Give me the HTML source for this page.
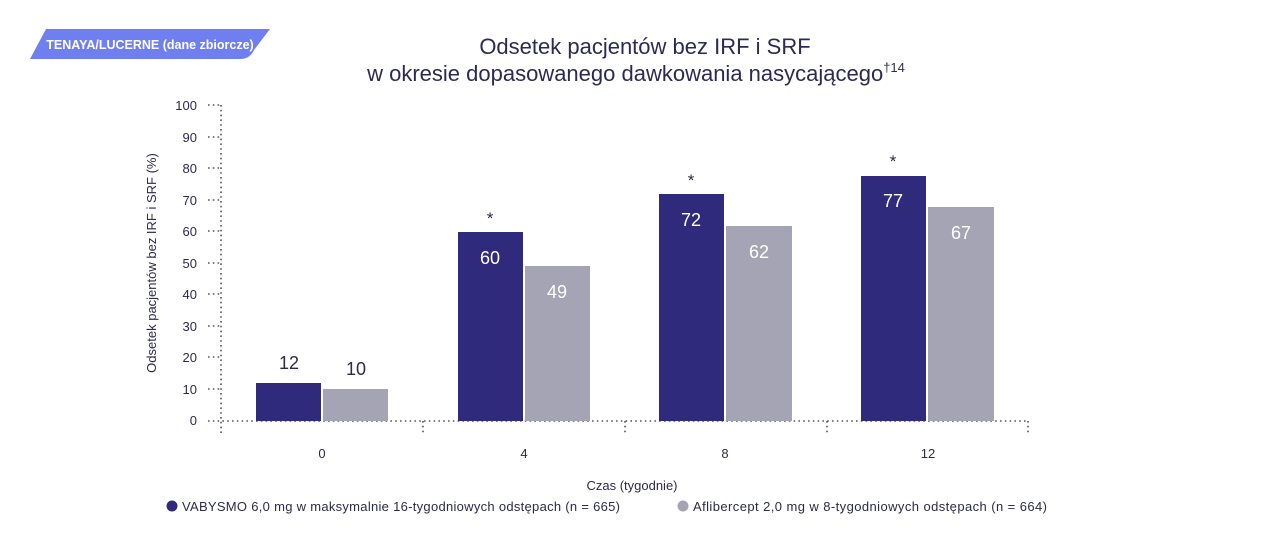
<!DOCTYPE html>
<html><head><meta charset="utf-8"><style>
html,body{margin:0;padding:0;background:#fff;width:1280px;height:552px;overflow:hidden}
svg{display:block;font-family:"Liberation Sans",sans-serif}
</style></head><body>
<svg width="1280" height="552" viewBox="0 0 1280 552">
<path d="M46 29 H270 L254 50 Q250 59 240 59 H30 Z" fill="#6f7ff0"/>
<text x="150" y="49" font-size="12.5" font-weight="bold" fill="#fff" text-anchor="middle">TENAYA/LUCERNE (dane zbiorcze)</text>
<g fill="#2b2a55" font-size="22" text-anchor="middle">
<text x="645" y="54">Odsetek pacjentów bez IRF i SRF</text>
<text x="636" y="81">w okresie dopasowanego dawkowania nasycającego<tspan font-size="13" dy="-9">†14</tspan></text>
</g>
<text transform="translate(156,263) rotate(-90)" font-size="13" fill="#2b2a4c" text-anchor="middle">Odsetek pacjentów bez IRF i SRF (%)</text>
<g stroke="#555" stroke-width="1.6" stroke-dasharray="1.6 3.2" fill="none">
<line x1="221" y1="105" x2="221" y2="435"/>
<line x1="208" y1="421" x2="1028" y2="421"/>
<line x1="423" y1="421" x2="423" y2="435"/>
<line x1="625" y1="421" x2="625" y2="435"/>
<line x1="827" y1="421" x2="827" y2="435"/>
<line x1="1028" y1="421" x2="1028" y2="435"/>
<line x1="208" y1="105" x2="221" y2="105"/><line x1="208" y1="137" x2="221" y2="137"/>
<line x1="208" y1="168" x2="221" y2="168"/><line x1="208" y1="200" x2="221" y2="200"/>
<line x1="208" y1="231" x2="221" y2="231"/><line x1="208" y1="263" x2="221" y2="263"/>
<line x1="208" y1="294" x2="221" y2="294"/><line x1="208" y1="326" x2="221" y2="326"/>
<line x1="208" y1="357" x2="221" y2="357"/><line x1="208" y1="389" x2="221" y2="389"/>
</g>
<g font-size="13" fill="#2b2a4c" text-anchor="end">
<text x="197" y="110">100</text><text x="197" y="142">90</text><text x="197" y="173">80</text>
<text x="197" y="205">70</text><text x="197" y="236">60</text><text x="197" y="268">50</text>
<text x="197" y="299">40</text><text x="197" y="331">30</text><text x="197" y="362">20</text>
<text x="197" y="394">10</text><text x="197" y="425">0</text>
</g>
<g fill="#302a7c">
<rect x="256" y="383" width="65" height="38"/>
<rect x="458" y="232" width="65" height="189"/>
<rect x="659" y="194" width="65" height="227"/>
<rect x="861" y="176" width="65" height="245"/>
</g>
<g fill="#a5a4b4">
<rect x="323" y="389" width="65" height="32"/>
<rect x="525" y="266" width="65" height="155"/>
<rect x="726" y="226" width="66" height="195"/>
<rect x="928" y="207" width="66" height="214"/>
</g>
<g font-size="18" text-anchor="middle">
<text x="289" y="369" fill="#2b2a4c">12</text>
<text x="356" y="375" fill="#2b2a4c">10</text>
<g fill="#fff">
<text x="490" y="264">60</text><text x="557" y="298">49</text>
<text x="691" y="226">72</text><text x="759" y="258">62</text>
<text x="893" y="207">77</text><text x="961" y="239">67</text>
</g>
<g fill="#2b2a4c" font-size="17">
<text x="490" y="224">*</text><text x="691" y="186">*</text><text x="893" y="167">*</text>
</g>
</g>
<g font-size="13" fill="#2b2a4c" text-anchor="middle">
<text x="322" y="458">0</text><text x="524" y="458">4</text>
<text x="725" y="458">8</text><text x="928" y="458">12</text>
<text x="632" y="490">Czas (tygodnie)</text>
</g>
<circle cx="172" cy="506" r="5.5" fill="#302a7c"/>
<text x="182" y="511" font-size="13" fill="#2b2a4c" textLength="438" lengthAdjust="spacing">VABYSMO 6,0 mg w maksymalnie 16-tygodniowych odstępach (n = 665)</text>
<circle cx="683" cy="506" r="5.5" fill="#a5a4b4"/>
<text x="693" y="511" font-size="13" fill="#2b2a4c" textLength="354" lengthAdjust="spacing">Aflibercept 2,0 mg w 8-tygodniowych odstępach (n = 664)</text>
</svg>
</body></html>
